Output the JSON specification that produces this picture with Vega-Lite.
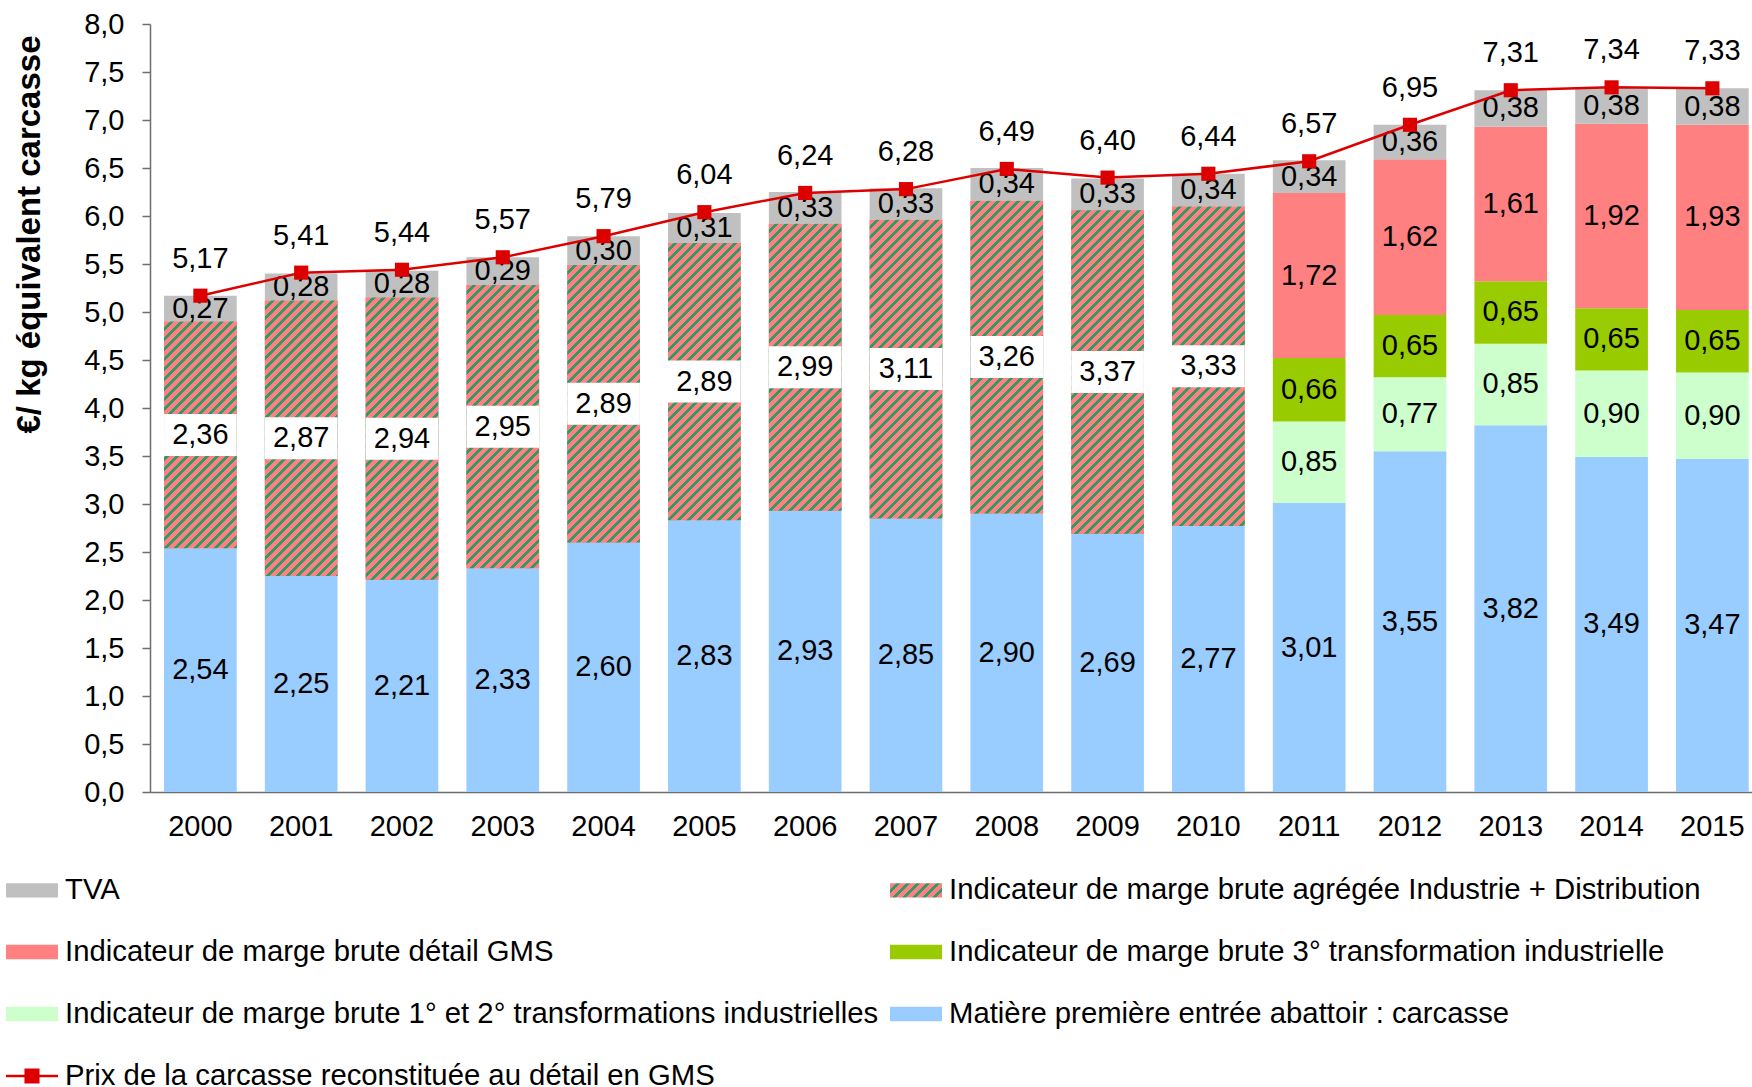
{
  "$schema": "https://vega.github.io/schema/vega-lite/v6.json",
  "autosize": {"type": "none"},
  "width": 1602,
  "height": 768,
  "padding": {"left": 150, "top": 24, "right": 0, "bottom": 295},
  "background": "white",
  "config": {
    "view": {"stroke": null},
    "font": "Liberation Sans",
    "text": {"font": "Liberation Sans"},
    "axis": {"labelFont": "Liberation Sans", "titleFont": "Liberation Sans", "labelColor": "black", "titleColor": "black"},
    "legend": {"labelFont": "Liberation Sans"}
  },
  "params": [
    {"name": "hatchStops", "value": [
      {"offset":0,"color":"#FF8080"},{"offset":0.0133,"color":"#FF8080"},{"offset":0.0133,"color":"#339966"},{"offset":0.0222,"color":"#339966"},
      {"offset":0.0222,"color":"#FF8080"},{"offset":0.0356,"color":"#FF8080"},{"offset":0.0356,"color":"#339966"},{"offset":0.0444,"color":"#339966"},
      {"offset":0.0444,"color":"#FF8080"},{"offset":0.0578,"color":"#FF8080"},{"offset":0.0578,"color":"#339966"},{"offset":0.0667,"color":"#339966"},
      {"offset":0.0667,"color":"#FF8080"},{"offset":0.08,"color":"#FF8080"},{"offset":0.08,"color":"#339966"},{"offset":0.0889,"color":"#339966"},
      {"offset":0.0889,"color":"#FF8080"},{"offset":0.1022,"color":"#FF8080"},{"offset":0.1022,"color":"#339966"},{"offset":0.1111,"color":"#339966"},
      {"offset":0.1111,"color":"#FF8080"},{"offset":0.1244,"color":"#FF8080"},{"offset":0.1244,"color":"#339966"},{"offset":0.1333,"color":"#339966"},
      {"offset":0.1333,"color":"#FF8080"},{"offset":0.1467,"color":"#FF8080"},{"offset":0.1467,"color":"#339966"},{"offset":0.1556,"color":"#339966"},
      {"offset":0.1556,"color":"#FF8080"},{"offset":0.1689,"color":"#FF8080"},{"offset":0.1689,"color":"#339966"},{"offset":0.1778,"color":"#339966"},
      {"offset":0.1778,"color":"#FF8080"},{"offset":0.1911,"color":"#FF8080"},{"offset":0.1911,"color":"#339966"},{"offset":0.2,"color":"#339966"},
      {"offset":0.2,"color":"#FF8080"},{"offset":0.2133,"color":"#FF8080"},{"offset":0.2133,"color":"#339966"},{"offset":0.2222,"color":"#339966"},
      {"offset":0.2222,"color":"#FF8080"},{"offset":0.2356,"color":"#FF8080"},{"offset":0.2356,"color":"#339966"},{"offset":0.2444,"color":"#339966"},
      {"offset":0.2444,"color":"#FF8080"},{"offset":0.2578,"color":"#FF8080"},{"offset":0.2578,"color":"#339966"},{"offset":0.2667,"color":"#339966"},
      {"offset":0.2667,"color":"#FF8080"},{"offset":0.28,"color":"#FF8080"},{"offset":0.28,"color":"#339966"},{"offset":0.2889,"color":"#339966"},
      {"offset":0.2889,"color":"#FF8080"},{"offset":0.3022,"color":"#FF8080"},{"offset":0.3022,"color":"#339966"},{"offset":0.3111,"color":"#339966"},
      {"offset":0.3111,"color":"#FF8080"},{"offset":0.3244,"color":"#FF8080"},{"offset":0.3244,"color":"#339966"},{"offset":0.3333,"color":"#339966"},
      {"offset":0.3333,"color":"#FF8080"},{"offset":0.3467,"color":"#FF8080"},{"offset":0.3467,"color":"#339966"},{"offset":0.3556,"color":"#339966"},
      {"offset":0.3556,"color":"#FF8080"},{"offset":0.3689,"color":"#FF8080"},{"offset":0.3689,"color":"#339966"},{"offset":0.3778,"color":"#339966"},
      {"offset":0.3778,"color":"#FF8080"},{"offset":0.3911,"color":"#FF8080"},{"offset":0.3911,"color":"#339966"},{"offset":0.4,"color":"#339966"},
      {"offset":0.4,"color":"#FF8080"},{"offset":0.4133,"color":"#FF8080"},{"offset":0.4133,"color":"#339966"},{"offset":0.4222,"color":"#339966"},
      {"offset":0.4222,"color":"#FF8080"},{"offset":0.4356,"color":"#FF8080"},{"offset":0.4356,"color":"#339966"},{"offset":0.4444,"color":"#339966"},
      {"offset":0.4444,"color":"#FF8080"},{"offset":0.4578,"color":"#FF8080"},{"offset":0.4578,"color":"#339966"},{"offset":0.4667,"color":"#339966"},
      {"offset":0.4667,"color":"#FF8080"},{"offset":0.48,"color":"#FF8080"},{"offset":0.48,"color":"#339966"},{"offset":0.4889,"color":"#339966"},
      {"offset":0.4889,"color":"#FF8080"},{"offset":0.5022,"color":"#FF8080"},{"offset":0.5022,"color":"#339966"},{"offset":0.5111,"color":"#339966"},
      {"offset":0.5111,"color":"#FF8080"},{"offset":0.5244,"color":"#FF8080"},{"offset":0.5244,"color":"#339966"},{"offset":0.5333,"color":"#339966"},
      {"offset":0.5333,"color":"#FF8080"},{"offset":0.5467,"color":"#FF8080"},{"offset":0.5467,"color":"#339966"},{"offset":0.5556,"color":"#339966"},
      {"offset":0.5556,"color":"#FF8080"},{"offset":0.5689,"color":"#FF8080"},{"offset":0.5689,"color":"#339966"},{"offset":0.5778,"color":"#339966"},
      {"offset":0.5778,"color":"#FF8080"},{"offset":0.5911,"color":"#FF8080"},{"offset":0.5911,"color":"#339966"},{"offset":0.6,"color":"#339966"},
      {"offset":0.6,"color":"#FF8080"},{"offset":0.6133,"color":"#FF8080"},{"offset":0.6133,"color":"#339966"},{"offset":0.6222,"color":"#339966"},
      {"offset":0.6222,"color":"#FF8080"},{"offset":0.6356,"color":"#FF8080"},{"offset":0.6356,"color":"#339966"},{"offset":0.6444,"color":"#339966"},
      {"offset":0.6444,"color":"#FF8080"},{"offset":0.6578,"color":"#FF8080"},{"offset":0.6578,"color":"#339966"},{"offset":0.6667,"color":"#339966"},
      {"offset":0.6667,"color":"#FF8080"},{"offset":0.68,"color":"#FF8080"},{"offset":0.68,"color":"#339966"},{"offset":0.6889,"color":"#339966"},
      {"offset":0.6889,"color":"#FF8080"},{"offset":0.7022,"color":"#FF8080"},{"offset":0.7022,"color":"#339966"},{"offset":0.7111,"color":"#339966"},
      {"offset":0.7111,"color":"#FF8080"},{"offset":0.7244,"color":"#FF8080"},{"offset":0.7244,"color":"#339966"},{"offset":0.7333,"color":"#339966"},
      {"offset":0.7333,"color":"#FF8080"},{"offset":0.7467,"color":"#FF8080"},{"offset":0.7467,"color":"#339966"},{"offset":0.7556,"color":"#339966"},
      {"offset":0.7556,"color":"#FF8080"},{"offset":0.7689,"color":"#FF8080"},{"offset":0.7689,"color":"#339966"},{"offset":0.7778,"color":"#339966"},
      {"offset":0.7778,"color":"#FF8080"},{"offset":0.7911,"color":"#FF8080"},{"offset":0.7911,"color":"#339966"},{"offset":0.8,"color":"#339966"},
      {"offset":0.8,"color":"#FF8080"},{"offset":0.8133,"color":"#FF8080"},{"offset":0.8133,"color":"#339966"},{"offset":0.8222,"color":"#339966"},
      {"offset":0.8222,"color":"#FF8080"},{"offset":0.8356,"color":"#FF8080"},{"offset":0.8356,"color":"#339966"},{"offset":0.8444,"color":"#339966"},
      {"offset":0.8444,"color":"#FF8080"},{"offset":0.8578,"color":"#FF8080"},{"offset":0.8578,"color":"#339966"},{"offset":0.8667,"color":"#339966"},
      {"offset":0.8667,"color":"#FF8080"},{"offset":0.88,"color":"#FF8080"},{"offset":0.88,"color":"#339966"},{"offset":0.8889,"color":"#339966"},
      {"offset":0.8889,"color":"#FF8080"},{"offset":0.9022,"color":"#FF8080"},{"offset":0.9022,"color":"#339966"},{"offset":0.9111,"color":"#339966"},
      {"offset":0.9111,"color":"#FF8080"},{"offset":0.9244,"color":"#FF8080"},{"offset":0.9244,"color":"#339966"},{"offset":0.9333,"color":"#339966"},
      {"offset":0.9333,"color":"#FF8080"},{"offset":0.9467,"color":"#FF8080"},{"offset":0.9467,"color":"#339966"},{"offset":0.9556,"color":"#339966"},
      {"offset":0.9556,"color":"#FF8080"},{"offset":0.9689,"color":"#FF8080"},{"offset":0.9689,"color":"#339966"},{"offset":0.9778,"color":"#339966"},
      {"offset":0.9778,"color":"#FF8080"},{"offset":0.9911,"color":"#FF8080"},{"offset":0.9911,"color":"#339966"},{"offset":1,"color":"#339966"}
    ]}
  ],
  "datasets": {
    "segments": [
      {"annee": "2000", "serie": "Matière première entrée abattoir : carcasse", "valeur": 2.54},
      {"annee": "2000", "serie": "Indicateur de marge brute agrégée Industrie + Distribution", "valeur": 2.36},
      {"annee": "2000", "serie": "TVA", "valeur": 0.27},
      {"annee": "2001", "serie": "Matière première entrée abattoir : carcasse", "valeur": 2.25},
      {"annee": "2001", "serie": "Indicateur de marge brute agrégée Industrie + Distribution", "valeur": 2.87},
      {"annee": "2001", "serie": "TVA", "valeur": 0.28},
      {"annee": "2002", "serie": "Matière première entrée abattoir : carcasse", "valeur": 2.21},
      {"annee": "2002", "serie": "Indicateur de marge brute agrégée Industrie + Distribution", "valeur": 2.94},
      {"annee": "2002", "serie": "TVA", "valeur": 0.28},
      {"annee": "2003", "serie": "Matière première entrée abattoir : carcasse", "valeur": 2.33},
      {"annee": "2003", "serie": "Indicateur de marge brute agrégée Industrie + Distribution", "valeur": 2.95},
      {"annee": "2003", "serie": "TVA", "valeur": 0.29},
      {"annee": "2004", "serie": "Matière première entrée abattoir : carcasse", "valeur": 2.60},
      {"annee": "2004", "serie": "Indicateur de marge brute agrégée Industrie + Distribution", "valeur": 2.89},
      {"annee": "2004", "serie": "TVA", "valeur": 0.30},
      {"annee": "2005", "serie": "Matière première entrée abattoir : carcasse", "valeur": 2.83},
      {"annee": "2005", "serie": "Indicateur de marge brute agrégée Industrie + Distribution", "valeur": 2.89},
      {"annee": "2005", "serie": "TVA", "valeur": 0.31},
      {"annee": "2006", "serie": "Matière première entrée abattoir : carcasse", "valeur": 2.93},
      {"annee": "2006", "serie": "Indicateur de marge brute agrégée Industrie + Distribution", "valeur": 2.99},
      {"annee": "2006", "serie": "TVA", "valeur": 0.33},
      {"annee": "2007", "serie": "Matière première entrée abattoir : carcasse", "valeur": 2.85},
      {"annee": "2007", "serie": "Indicateur de marge brute agrégée Industrie + Distribution", "valeur": 3.11},
      {"annee": "2007", "serie": "TVA", "valeur": 0.33},
      {"annee": "2008", "serie": "Matière première entrée abattoir : carcasse", "valeur": 2.90},
      {"annee": "2008", "serie": "Indicateur de marge brute agrégée Industrie + Distribution", "valeur": 3.26},
      {"annee": "2008", "serie": "TVA", "valeur": 0.34},
      {"annee": "2009", "serie": "Matière première entrée abattoir : carcasse", "valeur": 2.69},
      {"annee": "2009", "serie": "Indicateur de marge brute agrégée Industrie + Distribution", "valeur": 3.37},
      {"annee": "2009", "serie": "TVA", "valeur": 0.33},
      {"annee": "2010", "serie": "Matière première entrée abattoir : carcasse", "valeur": 2.77},
      {"annee": "2010", "serie": "Indicateur de marge brute agrégée Industrie + Distribution", "valeur": 3.33},
      {"annee": "2010", "serie": "TVA", "valeur": 0.34},
      {"annee": "2011", "serie": "Matière première entrée abattoir : carcasse", "valeur": 3.01},
      {"annee": "2011", "serie": "Indicateur de marge brute 1° et 2° transformations industrielles", "valeur": 0.85},
      {"annee": "2011", "serie": "Indicateur de marge brute 3° transformation industrielle", "valeur": 0.66},
      {"annee": "2011", "serie": "Indicateur de marge brute détail GMS", "valeur": 1.72},
      {"annee": "2011", "serie": "TVA", "valeur": 0.34},
      {"annee": "2012", "serie": "Matière première entrée abattoir : carcasse", "valeur": 3.55},
      {"annee": "2012", "serie": "Indicateur de marge brute 1° et 2° transformations industrielles", "valeur": 0.77},
      {"annee": "2012", "serie": "Indicateur de marge brute 3° transformation industrielle", "valeur": 0.65},
      {"annee": "2012", "serie": "Indicateur de marge brute détail GMS", "valeur": 1.62},
      {"annee": "2012", "serie": "TVA", "valeur": 0.36},
      {"annee": "2013", "serie": "Matière première entrée abattoir : carcasse", "valeur": 3.82},
      {"annee": "2013", "serie": "Indicateur de marge brute 1° et 2° transformations industrielles", "valeur": 0.85},
      {"annee": "2013", "serie": "Indicateur de marge brute 3° transformation industrielle", "valeur": 0.65},
      {"annee": "2013", "serie": "Indicateur de marge brute détail GMS", "valeur": 1.61},
      {"annee": "2013", "serie": "TVA", "valeur": 0.38},
      {"annee": "2014", "serie": "Matière première entrée abattoir : carcasse", "valeur": 3.49},
      {"annee": "2014", "serie": "Indicateur de marge brute 1° et 2° transformations industrielles", "valeur": 0.90},
      {"annee": "2014", "serie": "Indicateur de marge brute 3° transformation industrielle", "valeur": 0.65},
      {"annee": "2014", "serie": "Indicateur de marge brute détail GMS", "valeur": 1.92},
      {"annee": "2014", "serie": "TVA", "valeur": 0.38},
      {"annee": "2015", "serie": "Matière première entrée abattoir : carcasse", "valeur": 3.47},
      {"annee": "2015", "serie": "Indicateur de marge brute 1° et 2° transformations industrielles", "valeur": 0.90},
      {"annee": "2015", "serie": "Indicateur de marge brute 3° transformation industrielle", "valeur": 0.65},
      {"annee": "2015", "serie": "Indicateur de marge brute détail GMS", "valeur": 1.93},
      {"annee": "2015", "serie": "TVA", "valeur": 0.38}
    ],
    "totaux": [
      {"annee": "2000", "prix": 5.17},
      {"annee": "2001", "prix": 5.41},
      {"annee": "2002", "prix": 5.44},
      {"annee": "2003", "prix": 5.57},
      {"annee": "2004", "prix": 5.79},
      {"annee": "2005", "prix": 6.04},
      {"annee": "2006", "prix": 6.24},
      {"annee": "2007", "prix": 6.28},
      {"annee": "2008", "prix": 6.49},
      {"annee": "2009", "prix": 6.40},
      {"annee": "2010", "prix": 6.44},
      {"annee": "2011", "prix": 6.57},
      {"annee": "2012", "prix": 6.95},
      {"annee": "2013", "prix": 7.31},
      {"annee": "2014", "prix": 7.34},
      {"annee": "2015", "prix": 7.33}
    ]
  },
  "layer": [
    {
      "data": {"name": "segments"},
      "transform": [
        {"calculate": "indexof(['Matière première entrée abattoir : carcasse','Indicateur de marge brute agrégée Industrie + Distribution','Indicateur de marge brute 1° et 2° transformations industrielles','Indicateur de marge brute 3° transformation industrielle','Indicateur de marge brute détail GMS','TVA'], datum.serie)", "as": "ordre"},
        {"stack": "valeur", "groupby": ["annee"], "sort": [{"field": "ordre", "order": "ascending"}], "as": ["y0", "y1"]},
        {"calculate": "(datum.y0 + datum.y1) / 2", "as": "mid"},
        {"calculate": "replace(format(datum.valeur, '.2f'), '.', ',')", "as": "lab"},
        {"calculate": "{gradient: 'linear', x1: 0, y1: 0, x2: 450 * 72.68 / (72.68 * 72.68 + pow(datum.valeur * 96, 2)), y2: 450 * datum.valeur * 96 / (72.68 * 72.68 + pow(datum.valeur * 96, 2)), stops: hatchStops}", "as": "grad"}
      ],
      "layer": [
        {
          "mark": {"type": "bar", "strokeWidth": 0},
          "encoding": {
            "x": {
              "field": "annee", "type": "ordinal",
              "scale": {"paddingInner": 0.279, "paddingOuter": 0.086, "align": 0.81},
              "axis": {"title": null, "labelAngle": 0, "ticks": false, "tickSize": 0, "labelFontSize": 29, "labelPadding": 34, "labelBaseline": "middle", "domainColor": "#6d6d6d", "domainWidth": 1.5}
            },
            "y": {
              "field": "y0", "type": "quantitative",
              "title": "€/ kg équivalent carcasse",
              "scale": {"domain": [0, 8]},
              "axis": {
                "title": "€/ kg équivalent carcasse", "tickCount": 16, "grid": false,
                "labelExpr": "replace(format(datum.value, '.1f'), '.', ',')",
                "labelFontSize": 29, "labelPadding": 18, "tickSize": 8, "tickWidth": 1.5, "tickColor": "#6d6d6d",
                "domainColor": "#6d6d6d", "domainWidth": 1.5,
                "titleFontSize": 33, "titleFontWeight": "bold", "titleAngle": 270, "titleX": -121, "titleY": 210,
                "titleAlign": "center", "titleBaseline": "middle"
              }
            },
            "y2": {"field": "y1"},
            "color": {
              "field": "serie", "type": "nominal",
              "scale": {
                "domain": ["TVA", "Indicateur de marge brute agrégée Industrie + Distribution", "Indicateur de marge brute détail GMS", "Indicateur de marge brute 3° transformation industrielle", "Indicateur de marge brute 1° et 2° transformations industrielles", "Matière première entrée abattoir : carcasse", "Prix de la carcasse reconstituée au détail en GMS"],
                "range": ["#C0C0C0", {"expr": "{gradient: 'linear', x1: 0, y1: 0, x2: 8.037, y2: 2.226, stops: hatchStops}"}, "#FF8080", "#99CC00", "#CCFFCC", "#99CCFF", "#DD0000"]
              },
              "legend": {
                "title": null, "orient": "none", "direction": "horizontal", "legendX": -144, "legendY": 840,
                "columns": 2, "columnPadding": 11, "rowPadding": 20, "padding": 0,
                "symbolSize": 2704, "symbolStrokeWidth": 0, "labelOffset": 7,
                "labelFontSize": 29.3, "labelColor": "black", "labelLimit": 1200,
                "encode": {
                  "symbols": {
                    "update": {
                      "shape": {"signal": "datum.value === 'Prix de la carcasse reconstituée au détail en GMS' ? 'M-1,-0.05H1V0.05H-1Z M-0.29,-0.29H0.29V0.29H-0.29Z' : 'M-1,-0.277H1V0.277H-1Z'"},
                      "opacity": {"value": 1}
                    }
                  }
                }
              }
            }
          }
        },
        {
          "transform": [{"filter": "datum.serie === 'Indicateur de marge brute agrégée Industrie + Distribution'"}],
          "mark": {"type": "bar", "strokeWidth": 0},
          "encoding": {
            "x": {"field": "annee", "type": "ordinal"},
            "y": {"field": "y0", "type": "quantitative", "title": "€/ kg équivalent carcasse"},
            "y2": {"field": "y1"},
            "fill": {"field": "grad", "type": "nominal", "scale": null}
          }
        },
        {
          "transform": [{"filter": "datum.serie === 'Indicateur de marge brute agrégée Industrie + Distribution'"}],
          "mark": {"type": "bar", "fill": "white", "strokeWidth": 0, "yOffset": -21, "y2Offset": 21},
          "encoding": {
            "x": {"field": "annee", "type": "ordinal"},
            "y": {"field": "mid", "type": "quantitative", "title": "€/ kg équivalent carcasse"},
            "y2": {"field": "mid"}
          }
        },
        {
          "mark": {"type": "text", "fontSize": 29, "color": "black", "baseline": "middle"},
          "encoding": {
            "x": {"field": "annee", "type": "ordinal"},
            "y": {"field": "mid", "type": "quantitative", "title": "€/ kg équivalent carcasse"},
            "text": {"field": "lab"}
          }
        }
      ]
    },
    {
      "data": {"name": "totaux"},
      "transform": [
        {"calculate": "replace(format(datum.prix, '.2f'), '.', ',')", "as": "lab"}
      ],
      "layer": [
        {
          "mark": {"type": "line", "color": "#DD0000", "strokeWidth": 2.5},
          "encoding": {
            "x": {"field": "annee", "type": "ordinal"},
            "y": {"field": "prix", "type": "quantitative", "title": "€/ kg équivalent carcasse"}
          }
        },
        {
          "mark": {"type": "square", "color": "#DD0000", "filled": true, "size": 200, "opacity": 1},
          "encoding": {
            "x": {"field": "annee", "type": "ordinal"},
            "y": {"field": "prix", "type": "quantitative", "title": "€/ kg équivalent carcasse"}
          }
        },
        {
          "mark": {"type": "text", "fontSize": 29, "color": "black", "baseline": "middle", "dy": -37},
          "encoding": {
            "x": {"field": "annee", "type": "ordinal"},
            "y": {"field": "prix", "type": "quantitative", "title": "€/ kg équivalent carcasse"},
            "text": {"field": "lab"}
          }
        }
      ]
    }
  ]
}
